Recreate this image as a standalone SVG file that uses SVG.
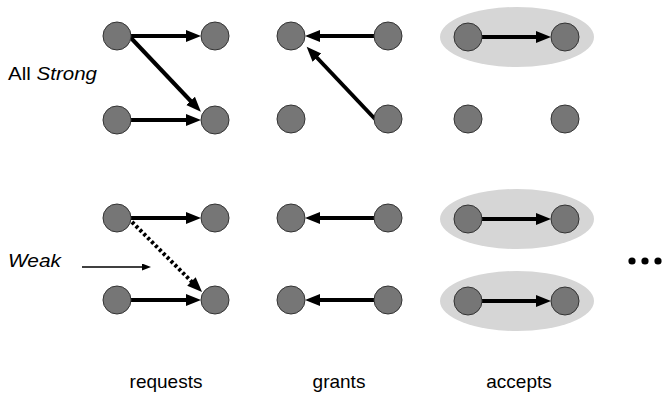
<svg xmlns="http://www.w3.org/2000/svg" width="662" height="400" viewBox="0 0 662 400">
<defs>
<style>
.node{fill:#767676;stroke:#333;stroke-width:1}
.grp{fill:#d6d6d6}
.edge{stroke:#000;stroke-width:4;fill:none}
.dotted{stroke-dasharray:3,2.5}
.thin{stroke:#000;stroke-width:1.3;fill:none}
text{font-family:"Liberation Sans",Arial,sans-serif;fill:#000}
.lbl{font-size:19px;text-anchor:middle}
</style>
<marker id="ah" markerUnits="userSpaceOnUse" markerWidth="16" markerHeight="14" refX="5" refY="6" orient="auto">
<path d="M0,0 L15,6 L0,12 z" fill="#000"/>
</marker>
<marker id="ahs" markerUnits="userSpaceOnUse" markerWidth="10" markerHeight="8" refX="2" refY="3.5" orient="auto">
<path d="M0,0 L9,3.5 L0,7 z" fill="#000"/>
</marker>
</defs>
<rect width="662" height="400" fill="#fff"/>
<g id="groups">
<ellipse class="grp" cx="517" cy="37" rx="77" ry="30"/>
<ellipse class="grp" cx="517" cy="219" rx="77" ry="30"/>
<ellipse class="grp" cx="517" cy="301" rx="77" ry="30"/>
</g>
<g id="connectors">
<line class="edge" x1="131" y1="36" x2="191" y2="36" marker-end="url(#ah)"/>
<line class="edge" x1="131" y1="38" x2="194" y2="104.5" marker-end="url(#ah)"/>
<line class="edge" x1="131" y1="120" x2="191" y2="120" marker-end="url(#ah)"/>
<line class="edge" x1="374" y1="36" x2="315" y2="36" marker-end="url(#ah)"/>
<line class="edge" x1="375" y1="119" x2="313.5" y2="54" marker-end="url(#ah)"/>
<line class="edge" x1="482" y1="37" x2="541" y2="37" marker-end="url(#ah)"/>
<line class="edge" x1="131" y1="218" x2="191" y2="218" marker-end="url(#ah)"/>
<line class="edge dotted" x1="132" y1="222" x2="195" y2="285" marker-end="url(#ah)"/>
<line class="edge" x1="131" y1="300" x2="191" y2="300" marker-end="url(#ah)"/>
<line class="edge" x1="374" y1="218" x2="315" y2="218" marker-end="url(#ah)"/>
<line class="edge" x1="374" y1="300" x2="315" y2="300" marker-end="url(#ah)"/>
<line class="edge" x1="482" y1="219" x2="541" y2="219" marker-end="url(#ah)"/>
<line class="edge" x1="482" y1="301" x2="541" y2="301" marker-end="url(#ah)"/>
<line class="thin" x1="82" y1="267" x2="144" y2="267" marker-end="url(#ahs)"/>
</g>
<g id="req-a1"><circle class="node" cx="117" cy="36" r="14"/></g>
<g id="req-b1"><circle class="node" cx="215" cy="36" r="14"/></g>
<g id="req-a2"><circle class="node" cx="117" cy="120" r="14"/></g>
<g id="req-b2"><circle class="node" cx="215" cy="120" r="14"/></g>
<g id="gr-a1"><circle class="node" cx="291" cy="36" r="14"/></g>
<g id="gr-b1"><circle class="node" cx="388" cy="36" r="14"/></g>
<g id="gr-a2"><circle class="node" cx="291" cy="119" r="14"/></g>
<g id="gr-b2"><circle class="node" cx="388" cy="119" r="14"/></g>
<g id="acc-a1"><circle class="node" cx="468" cy="37" r="14"/></g>
<g id="acc-b1"><circle class="node" cx="565" cy="37" r="14"/></g>
<g id="acc-a2"><circle class="node" cx="468" cy="119" r="14"/></g>
<g id="acc-b2"><circle class="node" cx="565" cy="119" r="14"/></g>
<g id="wreq-a1"><circle class="node" cx="117" cy="218" r="14"/></g>
<g id="wreq-b1"><circle class="node" cx="215" cy="218" r="14"/></g>
<g id="wreq-a2"><circle class="node" cx="117" cy="300" r="14"/></g>
<g id="wreq-b2"><circle class="node" cx="215" cy="300" r="14"/></g>
<g id="wgr-a1"><circle class="node" cx="291" cy="218" r="14"/></g>
<g id="wgr-b1"><circle class="node" cx="388" cy="218" r="14"/></g>
<g id="wgr-a2"><circle class="node" cx="291" cy="300" r="14"/></g>
<g id="wgr-b2"><circle class="node" cx="388" cy="300" r="14"/></g>
<g id="wacc-a1"><circle class="node" cx="468" cy="219" r="14"/></g>
<g id="wacc-b1"><circle class="node" cx="565" cy="219" r="14"/></g>
<g id="wacc-a2"><circle class="node" cx="468" cy="301" r="14"/></g>
<g id="wacc-b2"><circle class="node" cx="565" cy="301" r="14"/></g>
<g id="ellipsis" fill="#000">
<circle cx="632" cy="261" r="3.6"/>
<circle cx="645" cy="261" r="3.6"/>
<circle cx="658" cy="261" r="3.6"/>
</g>
<g id="labels">
<text x="8" y="80" font-size="18" textLength="89" lengthAdjust="spacingAndGlyphs">All <tspan font-style="italic">Strong</tspan></text>
<text x="8" y="267" font-size="18" font-style="italic" textLength="53" lengthAdjust="spacingAndGlyphs">Weak</text>
<text class="lbl" x="166" y="388">requests</text>
<text class="lbl" x="339" y="388">grants</text>
<text class="lbl" x="519" y="388">accepts</text>
</g>
</svg>
